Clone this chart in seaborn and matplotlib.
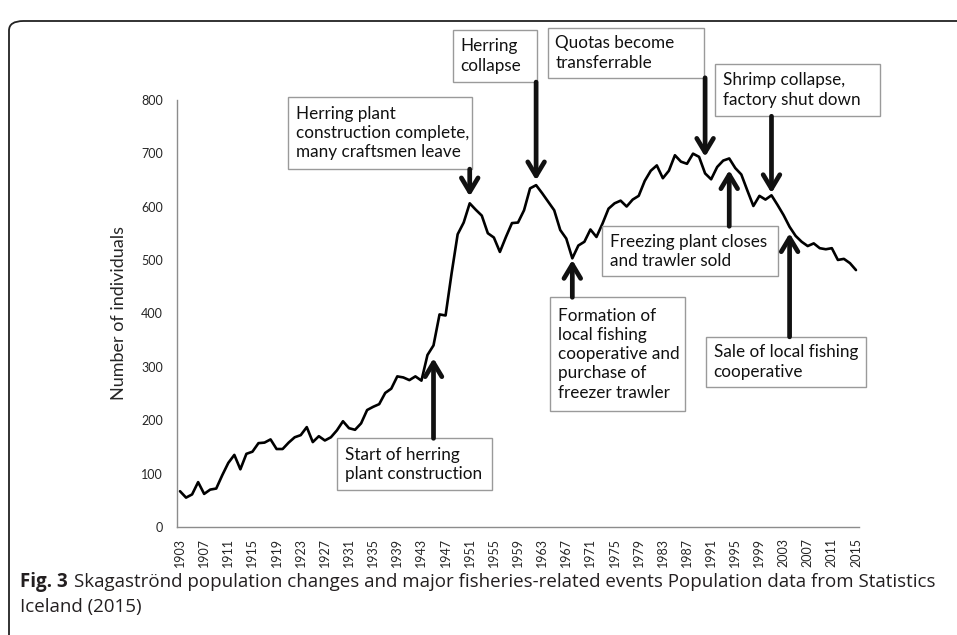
import matplotlib
matplotlib.use("Agg")
import matplotlib.pyplot as plt
import seaborn as sns
import pandas as pd
import numpy as np
from matplotlib.patches import Rectangle, FancyBboxPatch
from matplotlib.ticker import FixedLocator

years = list(range(1903, 2016))
population = [
    67, 55, 61, 84, 62, 70, 72, 97, 120, 135,
    108, 137, 141, 157, 158, 164, 146, 146, 158, 168,
    172, 187, 159, 170, 162, 168, 181, 198, 185, 182,
    194, 219, 225, 230, 251, 259, 282, 280, 275, 282,
    274, 322, 340, 398, 396, 475, 548, 570, 606, 594,
    583, 550, 542, 515, 543, 569, 570, 593, 634, 640,
    625, 609, 593, 556, 540, 503, 527, 534, 557, 543,
    568, 596, 606, 611, 600, 613, 620, 648, 667, 677,
    653, 667, 696, 684, 680, 699, 693, 662, 651, 674,
    686, 690, 672, 660, 630, 601, 620, 613, 621, 603,
    584, 562, 545, 534, 526, 531, 522, 520, 522, 500,
    502, 494, 481,
]
tick_years = list(range(1903, 2016, 4))
y_ticks = [0, 100, 200, 300, 400, 500, 600, 700, 800]

# annotation events: text, box (x0, x1, y0, y1) in data units, arrow year, arrow start, arrow tip
events = [
    ("Herring plant\nconstruction complete,\nmany craftsmen leave", (1920.9, 1951.3, 670, 805), 1951, 670, 619),
    ("Herring\ncollapse", (1948.2, 1962.1, 833, 931), 1962, 833, 649),
    ("Quotas become\ntransferrable", (1963.9, 1989.9, 841, 934), 1990, 841, 693),
    ("Shrimp collapse,\nfactory shut down", (1991.6, 2018.9, 769, 867), 2001, 769, 625),
    ("Start of herring\nplant construction", (1929.0, 1954.7, 69, 166), 1945, 166, 316),
    ("Formation of\nlocal fishing\ncooperative and\npurchase of\nfreezer trawler", (1964.3, 1986.6, 217, 430), 1968, 430, 500),
    ("Freezing plant closes\nand trawler sold", (1973.0, 2002.0, 469, 563), 1994, 563, 668),
    ("Sale of local fishing\ncooperative", (1990.1, 2016.6, 262, 356), 2004, 356, 550),
]

df = pd.DataFrame({"Year": years, "Population": population})

sns.set_style("white")
plt.rcParams["font.family"] = ["Lato", "DejaVu Sans"]

fig = plt.figure(figsize=(9.57, 6.35), dpi=100)
ax = fig.add_axes([177 / 957, 1 - 527 / 635, (859 - 177) / 957, (527 - 99.7) / 635])

sns.lineplot(data=df, x="Year", y="Population", ax=ax, color="black", linewidth=1.9, zorder=4)

ax.set_xlim(1902.5, 2015.5)
ax.set_ylim(0, 800)
ax.set_xlabel("")
ax.set_ylabel("Number of individuals", fontsize=13, labelpad=10)

for s in ["top", "right"]:
    ax.spines[s].set_visible(False)
for s in ["left", "bottom"]:
    ax.spines[s].set_color("#8c8c8c")
    ax.spines[s].set_linewidth(1.0)

ax.set_yticks(y_ticks)
ax.set_yticklabels([str(v) for v in y_ticks], fontsize=9)
ax.tick_params(axis="y", length=4, color="#8c8c8c", width=0.8, pad=6)

ax.xaxis.set_major_locator(FixedLocator(tick_years))
ax.set_xticklabels([str(v) for v in tick_years], rotation=90, fontsize=9)
ax.xaxis.set_minor_locator(FixedLocator(np.arange(1902.5, 2016.0, 1.0)))
ax.tick_params(axis="x", which="major", length=0, pad=8)
ax.tick_params(axis="x", which="minor", length=4, color="#8c8c8c", width=0.8)

for text, (x0, x1, y0, y1), ay, a0, a1 in events:
    rect = Rectangle((x0, y0), x1 - x0, y1 - y0, facecolor="white", edgecolor="#9a9a9a",
                     linewidth=1.0, clip_on=False, zorder=5)
    ax.add_patch(rect)
    ax.text(x0 + 1.3, (y0 + y1) / 2, text, ha="left", va="center", fontsize=12.3,
            linespacing=1.25, color="#111111", zorder=6, clip_on=False)
    ax.annotate("", xy=(ay, a1), xytext=(ay, a0),
                arrowprops=dict(arrowstyle="->,head_length=1.0,head_width=0.6", lw=3.4,
                                color="#111111", shrinkA=0, shrinkB=0, mutation_scale=10),
                annotation_clip=False, zorder=6)

# outer frame (top-left rounded corner visible)
frame = FancyBboxPatch((9 / 957, -0.2), 1.2, (635 - 21) / 635 + 0.2,
                       boxstyle="round,pad=0,rounding_size=0.015",
                       transform=fig.transFigure, facecolor="none", edgecolor="#222222",
                       linewidth=1.3, clip_on=False)
fig.patches.append(frame)

# caption
fig.canvas.draw()
renderer = fig.canvas.get_renderer()
cap_y1 = 1 - 582 / 635
cap_y2 = 1 - 607 / 635
cap_font = ["Open Sans", "DejaVu Sans"]
t_bold = fig.text(20 / 957, cap_y1, "Fig. 3", fontsize=13.5, fontweight="bold",
                  va="center", ha="left", color="#231f20", family=cap_font)
bb = t_bold.get_window_extent(renderer=renderer)
fig.text((bb.x1 + 6) / fig.bbox.width, cap_y1,
         "Skagaströnd population changes and major fisheries-related events Population data from Statistics",
         fontsize=13.5, va="center", ha="left", color="#231f20", family=cap_font)
fig.text(20 / 957, cap_y2, "Iceland (2015)", fontsize=13.5, va="center", ha="left",
         color="#231f20", family=cap_font)

fig.savefig("out.png", dpi=100)
